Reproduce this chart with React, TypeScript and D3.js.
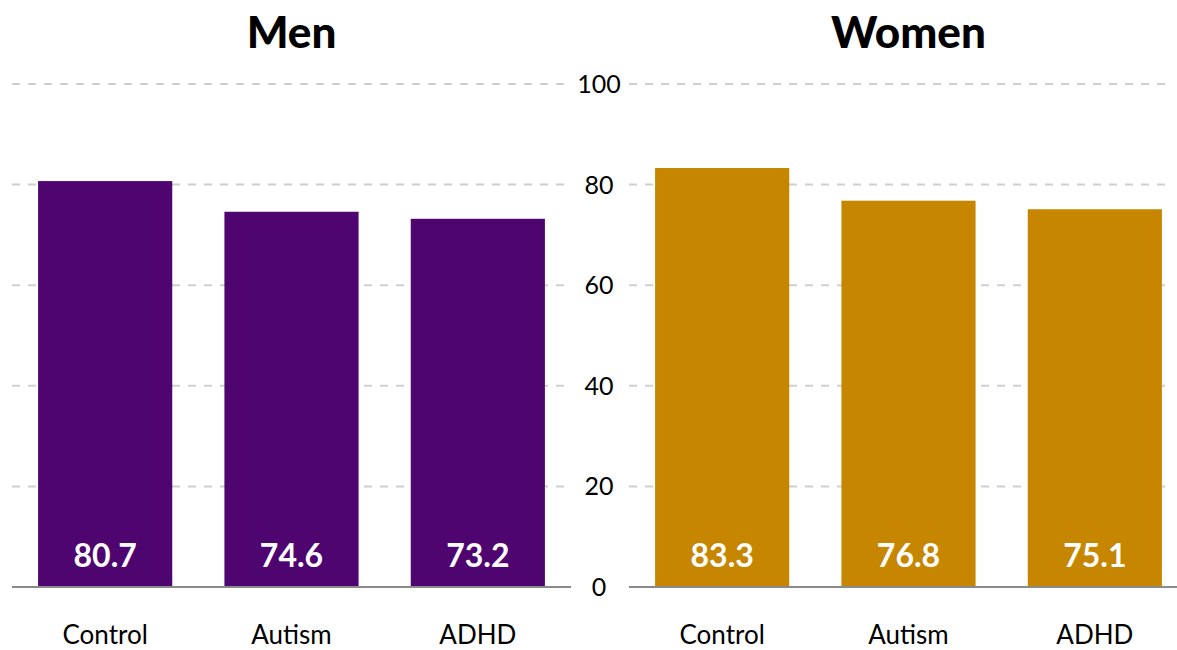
import * as d3 from "d3";

const categories = ["Control", "Autism", "ADHD"];
const menValues = [80.7, 74.6, 73.2];
const womenValues = [83.3, 76.8, 75.1];
const yTicks = [0, 20, 40, 60, 80, 100];
const panelTitles = ["Men", "Women"];

const width = 1177;
const height = 650;
const font = "Lato, 'Open Sans', sans-serif";

const y = d3.scaleLinear().domain([0, 100]).range([587, 84]);

const panels = [
  { title: panelTitles[0], values: menValues, color: "#4f0570", range: [12, 571], grid: [12, 566], base: [12, 571] },
  { title: panelTitles[1], values: womenValues, color: "#c78600", range: [629, 1188], grid: [629, 1170], base: [629, 1177] },
];

const App = () => {
  return (
    <svg
      width={width}
      height={height}
      viewBox={`0 0 ${width} ${height}`}
      style={{ position: "absolute", left: 0, top: 0, fontFamily: font }}
    >
      {panels.map((p) => {
        const x = d3
          .scaleBand()
          .domain(categories)
          .range(p.range as [number, number])
          .paddingInner(0.28)
          .paddingOuter(0.14);
        const cx = (p.range[0] + p.range[1]) / 2;
        return (
          <g key={p.title}>
            <text x={cx} y={48} textAnchor="middle" fontSize={44} fontWeight={900} fill="#000">
              {p.title}
            </text>
            {yTicks
              .filter((t) => t > 0)
              .map((t) => (
                <line
                  key={t}
                  x1={p.grid[0]}
                  x2={p.grid[1]}
                  y1={y(t)}
                  y2={y(t)}
                  stroke="#cfcfcf"
                  strokeWidth={2}
                  strokeDasharray="8,8"
                />
              ))}
            {categories.map((c, i) => (
              <g key={c}>
                <rect
                  x={x(c)}
                  y={y(p.values[i])}
                  width={x.bandwidth()}
                  height={y(0) - y(p.values[i])}
                  fill={p.color}
                />
                <text
                  x={x(c)! + x.bandwidth() / 2}
                  y={567}
                  textAnchor="middle"
                  fontSize={32}
                  fontWeight={700}
                  fill="#fff"
                >
                  {p.values[i].toFixed(1)}
                </text>
                <text
                  x={x(c)! + x.bandwidth() / 2}
                  y={644}
                  textAnchor="middle"
                  fontSize={26}
                  fill="#000"
                >
                  {c}
                </text>
              </g>
            ))}
            <line x1={p.base[0]} x2={p.base[1]} y1={y(0)} y2={y(0)} stroke="#8a8a8a" strokeWidth={2} />
          </g>
        );
      })}
      {yTicks.map((t) => (
        <text key={t} x={599} y={y(t)} dy="0.36em" textAnchor="middle" fontSize={25} fill="#000">
          {t}
        </text>
      ))}
    </svg>
  );
};

export default App;
